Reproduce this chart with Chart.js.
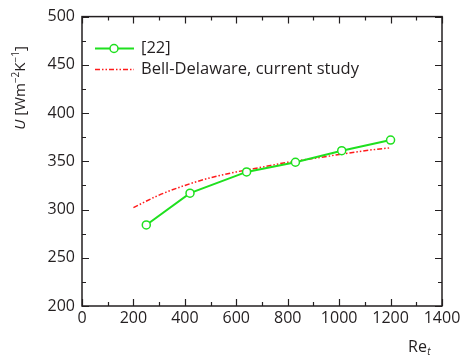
<!DOCTYPE html>
<html>
<head>
<meta charset="utf-8">
<script src="https://cdn.jsdelivr.net/npm/chart.js@4.4.0/dist/chart.umd.min.js"></script>
<style>
  html, body { margin: 0; padding: 0; background: #fff; }
  #wrap { width: 465px; height: 356px; position: relative; }
</style>
</head>
<body>
<div id="wrap"><canvas id="uChart"></canvas></div>
<script>
// Overall heat transfer coefficient vs tube-side Reynolds number
const re22 = [250, 420, 640, 830, 1010, 1200];
const u22 = [284, 317, 339, 349, 361, 372];
const reBD = [200, 300, 400, 500, 600, 700, 800, 900, 1000, 1100, 1200];
const uBD = [302, 315, 325, 333, 339, 344, 349, 353, 357, 361, 364];
const seriesLabels = ['[22]', 'Bell-Delaware, current study'];

const FONT = '"Open Sans", "DejaVu Sans", sans-serif';
const INK = '#231f20';
const GREEN = '#1fe01f';
const RED = '#ff1a1a';
const BD_DASH = [5, 2, 1.5, 2, 1.5, 2];

const toXY = (xs, ys) => xs.map((x, i) => ({ x: x, y: ys[i] }));

// frame with inward major/minor ticks on all four sides
const framePlugin = {
  id: 'frame',
  afterDraw(chart) {
    const ctx = chart.ctx;
    const { left, right, top, bottom } = chart.chartArea;
    const xs = chart.scales.x, ys = chart.scales.y;
    ctx.save();
    ctx.strokeStyle = INK;
    ctx.lineWidth = 1.5;
    ctx.strokeRect(left, top, right - left, bottom - top);
    ctx.lineWidth = 1.2;
    ctx.beginPath();
    for (let v = xs.min; v <= xs.max; v += 100) {
      const p = Math.round(xs.getPixelForValue(v)) + 0.5;
      const len = v % 200 === 0 ? 7 : 4;
      ctx.moveTo(p, bottom); ctx.lineTo(p, bottom - len);
      ctx.moveTo(p, top); ctx.lineTo(p, top + len);
    }
    for (let v = ys.min; v <= ys.max; v += 25) {
      const p = Math.round(ys.getPixelForValue(v)) + 0.5;
      const len = v % 50 === 0 ? 7 : 4;
      ctx.moveTo(left, p); ctx.lineTo(left + len, p);
      ctx.moveTo(right, p); ctx.lineTo(right - len, p);
    }
    ctx.stroke();
    ctx.restore();
  }
};

// axis titles with italic symbol, superscripts and subscript
const titlePlugin = {
  id: 'titles',
  afterDraw(chart) {
    const ctx = chart.ctx;
    ctx.save();
    ctx.fillStyle = INK;
    ctx.textBaseline = 'alphabetic';

    const parts = [
      { t: 'U', f: 'italic 15px ' + FONT, dy: 0 },
      { t: ' [Wm', f: '15px ' + FONT, dy: 0 },
      { t: '\u22122', f: '10px ' + FONT, dy: -6 },
      { t: 'K', f: '15px ' + FONT, dy: 0 },
      { t: '\u22121', f: '10px ' + FONT, dy: -6 },
      { t: ']', f: '15px ' + FONT, dy: 0 }
    ];
    let total = 0;
    parts.forEach(p => { ctx.font = p.f; p.w = ctx.measureText(p.t).width; total += p.w; });
    ctx.translate(25, 88);
    ctx.rotate(-Math.PI / 2);
    let cx = -total / 2;
    parts.forEach(p => { ctx.font = p.f; ctx.fillText(p.t, cx, p.dy); cx += p.w; });
    ctx.setTransform(1, 0, 0, 1, 0, 0);

    ctx.font = '16px ' + FONT;
    ctx.fillText('Re', 408, 352);
    const w = ctx.measureText('Re').width;
    ctx.font = 'italic 10px ' + FONT;
    ctx.fillText('t', 408 + w + 0.5, 355);
    ctx.restore();
  }
};

// legend in the upper left corner of the plot
const legendPlugin = {
  id: 'cornerLegend',
  afterDraw(chart) {
    const ctx = chart.ctx;
    const rows = [48, 69];
    ctx.save();
    chart.data.datasets.forEach((ds, i) => {
      const y = rows[i] + 0.5;
      ctx.strokeStyle = ds.borderColor;
      ctx.lineWidth = ds.borderWidth;
      ctx.setLineDash(ds.borderDash || []);
      ctx.beginPath();
      ctx.moveTo(95, y); ctx.lineTo(134, y);
      ctx.stroke();
      ctx.setLineDash([]);
      if (ds.pointRadius > 0) {
        ctx.fillStyle = '#fff';
        ctx.lineWidth = ds.pointBorderWidth;
        ctx.beginPath();
        ctx.arc(114, y, ds.pointRadius, 0, Math.PI * 2);
        ctx.fill();
        ctx.stroke();
      }
      ctx.fillStyle = INK;
      ctx.font = '16.5px ' + FONT;
      ctx.textBaseline = 'middle';
      ctx.fillText(ds.label, 141, rows[i]);
    });
    ctx.restore();
  }
};

const plainTick = v => String(v);

new Chart(document.getElementById('uChart'), {
  type: 'scatter',
  data: {
    datasets: [{
      label: seriesLabels[0],
      data: toXY(re22, u22),
      showLine: true,
      borderColor: GREEN,
      borderWidth: 2,
      pointRadius: 4,
      pointBorderWidth: 1.5,
      pointBackgroundColor: '#fff',
      pointBorderColor: GREEN,
      order: 1
    }, {
      label: seriesLabels[1],
      data: toXY(reBD, uBD),
      showLine: true,
      borderColor: RED,
      borderWidth: 1.5,
      borderDash: BD_DASH,
      pointRadius: 0,
      cubicInterpolationMode: 'monotone',
      order: 2
    }]
  },
  options: {
    responsive: true,
    maintainAspectRatio: false,
    animation: false,
    layout: { padding: { left: 0, right: 23, top: 15, bottom: 0 } },
    plugins: { legend: { display: false }, tooltip: { enabled: false } },
    scales: {
      x: {
        type: 'linear',
        min: 0, max: 1400,
        grid: { display: false, drawTicks: false },
        border: { display: false },
        ticks: { stepSize: 200, padding: 3, color: INK, callback: plainTick,
                 font: { family: FONT, size: 16 } },
        afterFit(scale) { scale.height = 50; }
      },
      y: {
        min: 200, max: 500,
        grid: { display: false, drawTicks: false },
        border: { display: false },
        ticks: { stepSize: 50, padding: 7, color: INK, callback: plainTick,
                 font: { family: FONT, size: 16 } },
        afterFit(scale) { scale.width = 82; }
      }
    }
  },
  plugins: [framePlugin, titlePlugin, legendPlugin]
});
</script>
</body>
</html>
